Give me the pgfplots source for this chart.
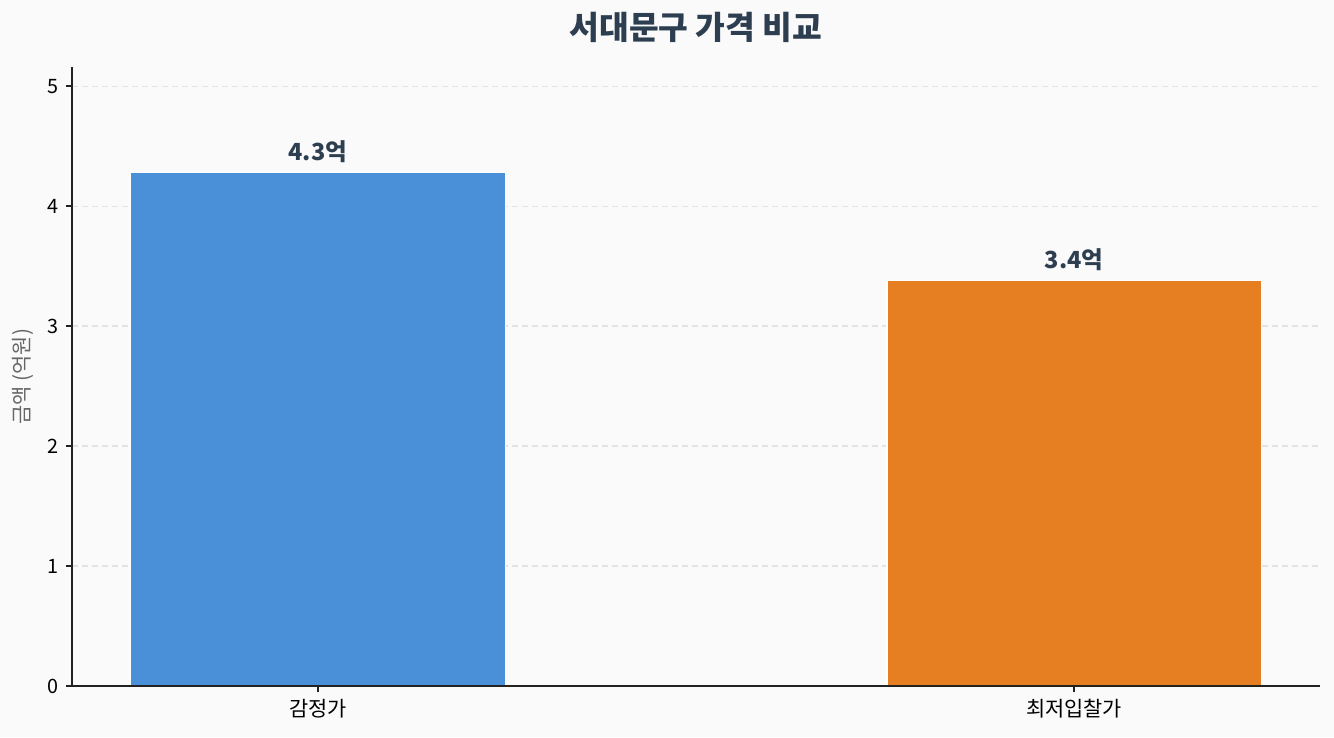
\documentclass[border=0pt]{standalone}
\usepackage{fontspec}
\setmainfont{Noto Sans CJK KR}
\usepackage{pgfplots}
\pgfplotsset{compat=1.18}
\usetikzlibrary{backgrounds,calc}

\definecolor{bgc}{HTML}{FAFAFA}
\definecolor{barblue}{HTML}{4A90D9}
\definecolor{barorange}{HTML}{E67E22}
\definecolor{titlec}{HTML}{2C3E50}
\definecolor{gridc}{HTML}{E3E3E3}
\definecolor{axisc}{HTML}{222222}
\definecolor{ylabc}{HTML}{666666}

\begin{document}
\begin{tikzpicture}
\begin{axis}[
    name=ax,
    scale only axis,
    width=599pt, height=297.1pt,
    xmin=-0.325, xmax=1.325,
    ymin=0, ymax=5.16,
    axis lines*=left,
    axis line style={axisc, line width=0.8pt},
    tick style={axisc, line width=0.8pt},
    tick align=outside,
    major tick length=3pt,
    xtick={0,1},
    xticklabels={감정가, 최저입찰가},
    ytick={0,1,2,3,4,5},
    ticklabel style={font=\fontsize{9.5}{11}\selectfont, text=black},
    x tick label style={font=\fontsize{10}{12}\selectfont},
    /pgf/number format/assume math mode=true,
    ymajorgrids=true,
    major grid style={gridc, dash pattern=on 3pt off 1.8pt, line width=0.6pt},
    ylabel={금액 (억원)},
    ylabel style={font=\fontsize{10}{12}\selectfont, text=ylabc},
    title={\textbf{서대문구 가격 비교}},
    title style={font=\fontsize{15.5}{17}\selectfont, text=titlec, yshift=2pt},
    ybar,
    bar width=0.495,
    bar shift=0pt,
    nodes near coords={\pgfmathprintnumber[fixed,precision=1]{\pgfplotspointmeta}억},
    nodes near coords style={font=\bfseries\fontsize{11.3}{13}\selectfont, text=titlec, yshift=1pt},
]
\addplot[fill=barblue, draw=white, line width=0.5pt] coordinates {(0,4.28)};
\addplot[fill=barorange, draw=white, line width=0.5pt] coordinates {(1,3.38)};
\draw[axisc, line width=0.8pt] (rel axis cs:0,0) -- (rel axis cs:1,0);
\end{axis}
\begin{scope}[on background layer]
\fill[bgc] ($(ax.south west)+(-34.56pt,-24.48pt)$) rectangle ($(ax.north east)+(6.72pt,32.16pt)$);
\end{scope}
\end{tikzpicture}
\end{document}
